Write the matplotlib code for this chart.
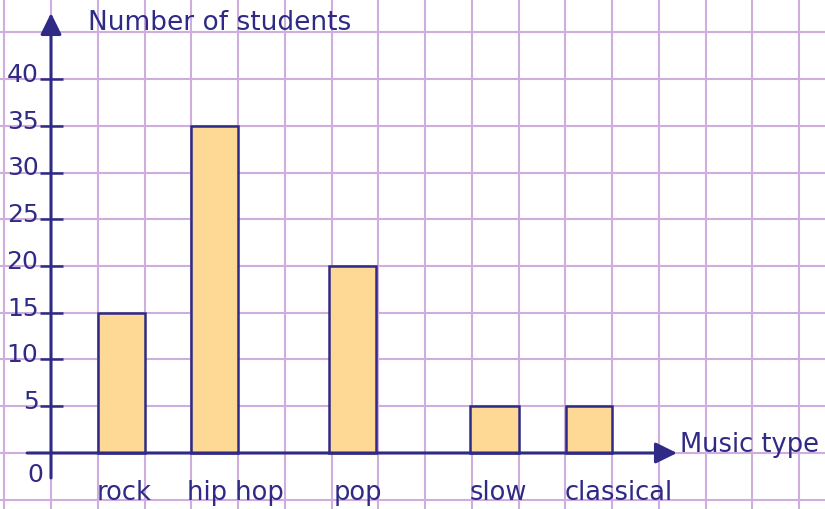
import matplotlib.pyplot as plt

# data
music_types = ["rock", "hip hop", "pop", "slow", "classical"]
students = [15, 35, 20, 5, 5]
y_ticks = [5, 10, 15, 20, 25, 30, 35, 40]

# layout (grid cells along x, one cell = 5 students along y)
bar_x = [1.5, 3.5, 6.45, 9.49, 11.5]
bar_w = [1.0, 1.0, 1.0, 1.04, 0.98]
label_x = [1.56, 3.94, 6.57, 9.56, 12.15]

navy = "#2f2a85"
grid_col = "#cfaddf"
bar_col = "#fdd995"

plt.rcParams['font.family'] = ['DejaVu Sans']

fig = plt.figure(figsize=(8.25, 5.09), dpi=100)
ax = fig.add_axes([0, 0, 1, 1])
ax.set_xlim(-1.091, 16.556)
ax.set_ylim(-5.99, 48.45)
ax.axis('off')

# squared paper
for gx in range(-1, 17):
    ax.axvline(gx, color=grid_col, lw=1.5, zorder=0)
for gy in range(-5, 50, 5):
    ax.axhline(gy, color=grid_col, lw=1.5, zorder=0)

# bars
ax.bar(bar_x, students, width=bar_w, color=bar_col, edgecolor=navy,
       linewidth=1.8, zorder=3)

# axes with arrow heads
arrow = dict(arrowstyle='-|>,head_length=0.65,head_width=0.32',
             mutation_scale=20, color=navy, lw=2.2, shrinkA=0, shrinkB=0)
ax.annotate('', xy=(13.39, 0), xytext=(-0.51, 0), arrowprops=arrow, zorder=4)
ax.annotate('', xy=(0, 47.06), xytext=(0, -2.67), arrowprops=arrow, zorder=4)

# y ticks and labels
ax.hlines(y_ticks, -0.235, 0.257, color=navy, lw=1.8, zorder=4)
for v in y_ticks:
    ax.text(-0.27, v + 0.45, str(v), ha='right', va='center',
            fontsize=18, color=navy)
ax.text(-0.34, -2.37, "0", ha='center', va='center', fontsize=18, color=navy)

# category labels
for x, name in zip(label_x, music_types):
    ax.text(x, -4.28, name, ha='center', va='center', fontsize=18.5, color=navy)

ax.text(0.79, 46.0, "Number of students", ha='left', va='center',
        fontsize=19, color=navy)
ax.text(13.45, 0.85, "Music type", ha='left', va='center',
        fontsize=18.5, color=navy)

fig.savefig("out.png", dpi=100)
